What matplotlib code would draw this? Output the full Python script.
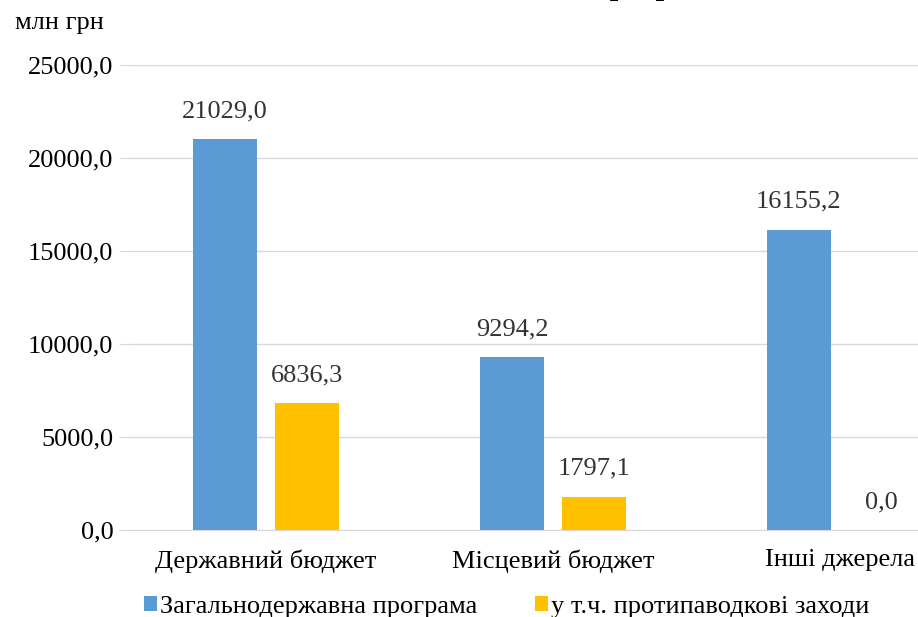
import matplotlib.pyplot as plt
import numpy as np

categories = ["Державний бюджет", "Місцевий бюджет", "Інші джерела"]
total = [21029.0, 9294.2, 16155.2]
flood = [6836.3, 1797.1, 0.0]
series_names = ["Загальнодержавна програма", "у т.ч. протипаводкові заходи"]
yticks = [0, 5000, 10000, 15000, 20000, 25000]
title = "Обсяг коштів на виконання програми"
unit = "млн грн"


def fmt(v):
    return ("%.1f" % v).replace(".", ",")


plt.rcParams['font.family'] = ['Liberation Serif', 'DejaVu Serif']

fig = plt.figure(figsize=(9.18, 6.17), dpi=100)
ax = fig.add_axes([0.1416, 0.141, 0.8584, 0.7536])

x = np.arange(len(categories))
w = 0.223
off = 0.143
b1 = ax.bar(x - off, total, w, color="#5B9BD5", label=series_names[0], zorder=3)
b2 = ax.bar(x + off, flood, w, color="#FFC000", label=series_names[1], zorder=3)

for bars, vals in [(b1, total), (b2, flood)]:
    for r, v in zip(bars, vals):
        ax.annotate(fmt(v), (r.get_x() + r.get_width() / 2, v),
                    xytext=(0, 12), textcoords="offset points",
                    ha="center", va="bottom", fontsize=19, color="#333333")

ax.set_ylim(0, 25000)
ax.set_xlim(-0.474, 2.272)
ax.set_yticks(yticks)
ax.set_yticklabels([fmt(v) for v in yticks], fontsize=19)
ax.set_xticks(x)
ax.set_xticklabels(categories, fontsize=19)
ax.grid(axis="y", color="#D9D9D9", linewidth=1, zorder=0)
for s in ["left", "right", "top"]:
    ax.spines[s].set_visible(False)
ax.spines["bottom"].set_color("#D9D9D9")
ax.tick_params(axis="y", length=8, color="#D9D9D9", pad=4)
ax.tick_params(axis="x", length=0, pad=14)

fig.text(0.016, 0.963, unit, fontsize=19, va="center", ha="left")
# title is cut off at the top edge in the original
fig.text(0.503, 1.009, title, fontsize=22, fontweight="bold",
         ha="center", va="baseline")

fig.legend(loc="lower left", bbox_to_anchor=(0.131, -0.04), ncol=2, frameon=False,
           fontsize=19, handlelength=0.5, handleheight=0.5, handletextpad=0.1,
           columnspacing=2.2)

fig.savefig("out.png", dpi=100)
